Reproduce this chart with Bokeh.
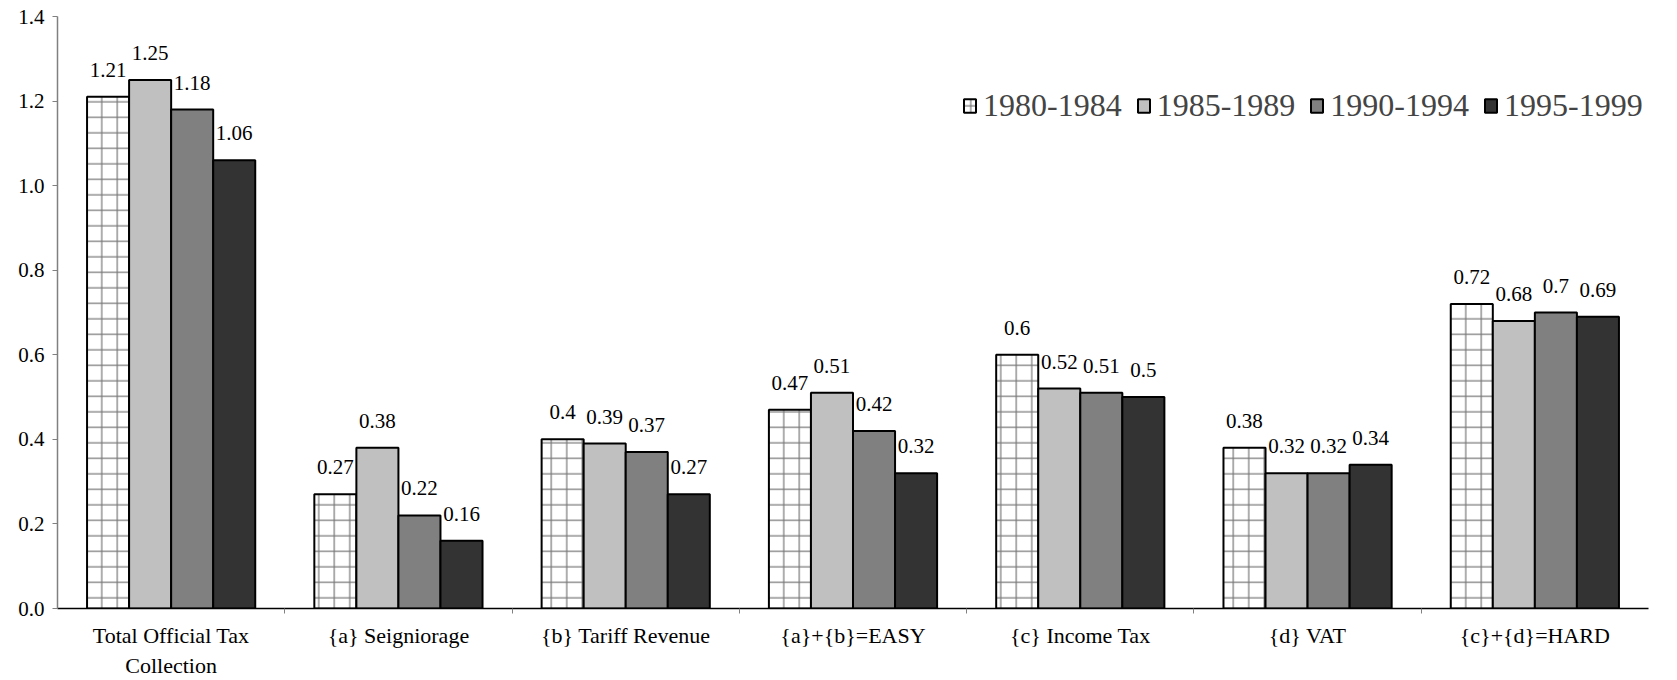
from bokeh.plotting import figure
from bokeh.models import ColumnDataSource, FixedTicker, NumeralTickFormatter, LabelSet, Legend, LegendItem, Range1d
from bokeh.core.properties import value
from bokeh.transform import dodge
from bokeh.embed import file_html
from bokeh.resources import INLINE

categories = ["Total Official Tax\nCollection", "{a} Seigniorage", "{b} Tariff Revenue",
              "{a}+{b}=EASY", "{c} Income Tax", "{d} VAT", "{c}+{d}=HARD"]
periods = ["1980-1984", "1985-1989", "1990-1994", "1995-1999"]
v1980 = [1.21, 0.27, 0.40, 0.47, 0.60, 0.38, 0.72]
v1985 = [1.25, 0.38, 0.39, 0.51, 0.52, 0.32, 0.68]
v1990 = [1.18, 0.22, 0.37, 0.42, 0.51, 0.32, 0.70]
v1995 = [1.06, 0.16, 0.27, 0.32, 0.50, 0.34, 0.69]
y_ticks = [0.0, 0.2, 0.4, 0.6, 0.8, 1.0, 1.2, 1.4]

series = [v1980, v1985, v1990, v1995]
fills = ["white", "#C0C0C0", "#808080", "#333333"]
centers = [i + 0.5 for i in range(len(categories))]

FONT = "Liberation Serif"

p = figure(width=1677, height=680, x_range=Range1d(0, len(categories)), y_range=Range1d(0, 1.4),
           output_backend="svg", toolbar_location=None,
           min_border_left=57, min_border_right=29, min_border_top=16, min_border_bottom=72)
p.outline_line_color = None
p.grid.visible = False
p.background_fill_color = "white"

bw = 0.185
offsets = [-1.5 * bw, -0.5 * bw, 0.5 * bw, 1.5 * bw]
items = []
for k, (vals, col, per) in enumerate(zip(series, fills, periods)):
    src = ColumnDataSource(dict(x=centers, top=vals, lab=[f"{v:g}" for v in vals]))
    kw = {}
    if k == 0:
        kw = dict(hatch_pattern="+", hatch_scale=15.5, hatch_color="#555555", hatch_weight=1.2, hatch_alpha=0.8)
    r = p.vbar(x=dodge("x", offsets[k], range=p.x_range), top="top", width=bw, bottom=0, source=src,
               fill_color=col, line_color="black", line_width=2, **kw)
    items.append(LegendItem(label=per, renderers=[r]))
    labels = LabelSet(x=dodge("x", offsets[k], range=p.x_range), y="top", text="lab", source=src,
                      text_align="center", text_baseline="alphabetic", y_offset=20,
                      text_font=value(FONT), text_font_size="21px", text_color="black")
    p.add_layout(labels)

legend = Legend(items=items, orientation="horizontal", location=(905, 484),
                label_text_font=FONT, label_text_font_size="32px", label_standoff=6,
                glyph_width=15, glyph_height=17, spacing=14, padding=0, margin=0,
                border_line_color=None, background_fill_alpha=0)
p.add_layout(legend)

# x axis
xt = FixedTicker(ticks=centers, minor_ticks=[1, 2, 3, 4, 5, 6])
p.xaxis.ticker = xt
p.xaxis.major_label_overrides = {c: lab for c, lab in zip(centers, categories)}
p.xaxis.major_tick_out = 0
p.xaxis.major_tick_in = 0
p.xaxis.minor_tick_out = 5
p.xaxis.minor_tick_in = 0
p.xaxis.axis_line_color = "black"
p.xaxis.axis_line_width = 1.5
p.xaxis.minor_tick_line_color = "#808080"
p.xaxis.major_label_standoff = 9
p.xaxis.major_label_text_font = FONT
p.xaxis.major_label_text_font_size = "22px"
p.xaxis.major_label_text_color = "black"

# y axis
p.yaxis.ticker = FixedTicker(ticks=y_ticks)
p.yaxis.formatter = NumeralTickFormatter(format="0.0")
p.yaxis.axis_line_color = "#808080"
p.yaxis.axis_line_width = 1.5
p.yaxis.major_tick_line_color = "#808080"
p.yaxis.major_tick_out = 5
p.yaxis.major_tick_in = 0
p.yaxis.minor_tick_line_color = None
p.yaxis.major_label_standoff = 8
p.yaxis.major_label_text_font = FONT
p.yaxis.major_label_text_font_size = "21px"
p.yaxis.major_label_text_color = "black"

open("out.html", "w").write(file_html(p, INLINE))
